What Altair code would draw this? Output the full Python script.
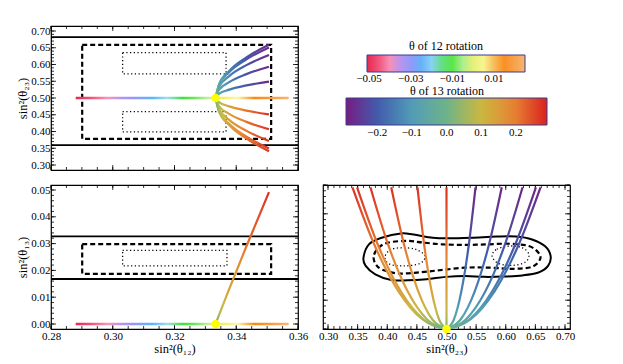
import altair as alt
import pandas as pd

FONT = "Liberation Serif"

# ---------------- data ----------------
theta13_pts = [0.0, 0.07, 0.14, 0.21, 0.275]
s13sq_pts = [0.0, 0.0033, 0.0130, 0.0290, 0.0492]        # sin^2(theta13)
s12sq_pts = [0.3333, 0.3344, 0.3377, 0.3433, 0.3506]     # sin^2(theta12)
s23_up = [
    [0.5, 0.5404, 0.5808, 0.6212, 0.6587],
    [0.5, 0.5384, 0.5769, 0.6153, 0.6509],
    [0.5, 0.5327, 0.5654, 0.5981, 0.6284],
    [0.5, 0.5238, 0.5475, 0.5713, 0.5933],
    [0.5, 0.5125, 0.5250, 0.5375, 0.5490],
]
s23_dn = [
    [0.5, 0.4596, 0.4192, 0.3788, 0.3413],
    [0.5, 0.4616, 0.4231, 0.3847, 0.3491],
    [0.5, 0.4673, 0.4346, 0.4019, 0.3716],
    [0.5, 0.4762, 0.4525, 0.4287, 0.4067],
    [0.5, 0.4875, 0.4750, 0.4625, 0.4510],
]
tbm_point = {"s12": 0.3333, "s13": 0.0, "s23": 0.5}

line12_x = [0.288, 0.357]

cb12_domain = [-0.051, 0.025]
cb12_ticks = [-0.05, -0.03, -0.01, 0.01]
cb12_offsets = [0.00, 0.07, 0.15, 0.22, 0.28, 0.36, 0.43, 0.50, 0.55, 0.62, 0.70, 0.76, 0.84, 1.00]
cb12_colors = ["#e52a50", "#f05078", "#f895bb", "#b094f4", "#909af8", "#58b8f8", "#a0dcf4",
               "#40e040", "#60e84c", "#c0f0a0", "#f8f060", "#f8f8b0", "#f88810", "#f8b474"]
cb13_domain = [-0.29, 0.29]
cb13_ticks = [-0.2, -0.1, 0.0, 0.1, 0.2]
cb13_colors = ["#781C81", "#3F60AE", "#539EB6", "#6DB388", "#CAB843", "#E78532", "#D92120"]

tl_solid_y = [0.3593, 0.6815]
tl_dash_rect = {"x": 0.2901, "x2": 0.3513, "y": 0.3778, "y2": 0.6583}
tl_dot_rects = {"x": [0.3032, 0.3032], "x2": [0.3367, 0.3367],
                "y": [0.5722, 0.3991], "y2": [0.6353, 0.4593]}
bl_solid_y = [0.0168, 0.0327]
bl_dash_rect = {"x": 0.2901, "x2": 0.3513, "y": 0.0187, "y2": 0.0298}
bl_dot_rect = {"x": 0.3032, "x2": 0.3370, "y": 0.0217, "y2": 0.0275}

br_solid_x = [0.3599, 0.3691, 0.3907, 0.4231, 0.4446, 0.4770, 0.5040, 0.5418, 0.5850, 0.6174,
              0.6444, 0.6660, 0.6757, 0.6714, 0.6552, 0.6282, 0.5958, 0.5635, 0.5311, 0.4988,
              0.4664, 0.4339, 0.4069, 0.3798, 0.3636]
br_solid_y = [0.0248, 0.0294, 0.0317, 0.0332, 0.0328, 0.0317, 0.0315, 0.0317, 0.0321, 0.0321,
              0.0311, 0.0288, 0.0254, 0.0219, 0.0196, 0.0186, 0.0182, 0.0181, 0.0184, 0.0181,
              0.0173, 0.0169, 0.0170, 0.0190, 0.0219]
br_dash_x = [0.3772, 0.3853, 0.4015, 0.4339, 0.4609, 0.4932, 0.5311, 0.5688, 0.6066, 0.6390,
             0.6552, 0.6579, 0.6444, 0.6120, 0.5742, 0.5311, 0.4883, 0.4501, 0.4177, 0.3907, 0.3798]
br_dash_y = [0.0254, 0.0282, 0.0300, 0.0306, 0.0300, 0.0294, 0.0292, 0.0294, 0.0296, 0.0288,
             0.0265, 0.0242, 0.0216, 0.0209, 0.0213, 0.0213, 0.0204, 0.0196, 0.0193, 0.0207, 0.0228]
br_dotL_x = [0.3961, 0.4042, 0.4231, 0.4474, 0.4636, 0.4555, 0.4285, 0.4042]
br_dotL_y = [0.0248, 0.0274, 0.0282, 0.0277, 0.0254, 0.0228, 0.0219, 0.0225]
br_dotR_x = [0.5769, 0.5850, 0.6066, 0.6282, 0.6390, 0.6336, 0.6120, 0.5877]
br_dotR_y = [0.0254, 0.0277, 0.0288, 0.0282, 0.0259, 0.0233, 0.0221, 0.0228]

x12_domain = [0.28, 0.36]
y23_domain = [0.30, 0.70]
y13_domain = [0.00, 0.05]
x23_domain = [0.30, 0.70]
x12_labels = [0.28, 0.30, 0.32, 0.34, 0.36]
y23_labels = [0.30, 0.35, 0.40, 0.45, 0.50, 0.55, 0.60, 0.65, 0.70]
y13_labels = [0.00, 0.01, 0.02, 0.03, 0.04, 0.05]
x23_labels = [0.30, 0.35, 0.40, 0.45, 0.50, 0.55, 0.60, 0.65, 0.70]

# ---------------- layout constants ----------------
W, H = 247, 144
LMAJ, LMIN = 5, 3


def steps(lo, hi, st):
    n = int(round((hi - lo) / st))
    return [round(lo + i * st, 5) for i in range(n + 1)]


def hex2rgb(h):
    return [int(h[i:i + 2], 16) for i in (1, 3, 5)]


def mix(c1, c2, r):
    a, b = hex2rgb(c1), hex2rgb(c2)
    return "#%02x%02x%02x" % tuple(round(a[k] + (b[k] - a[k]) * r) for k in range(3))


def cb13_knots():
    lo, hi = cb13_domain
    return [lo + i * (hi - lo) / (len(cb13_colors) - 1) for i in range(len(cb13_colors))]


def cmap13(t):
    lo, hi = cb13_domain
    f = (t - lo) / (hi - lo) * (len(cb13_colors) - 1)
    f = max(0.0, min(f, len(cb13_colors) - 1))
    i = min(int(f), len(cb13_colors) - 2)
    return mix(cb13_colors[i], cb13_colors[i + 1], f - i)


def grad(stops, x1=0, y1=0, x2=1, y2=0):
    return {"gradient": "linear", "x1": x1, "y1": y1, "x2": x2, "y2": y2,
            "stops": [{"offset": float(o), "color": c} for o, c in stops]}


def traj_stops(coord, sign):
    c0, c1 = coord[0], coord[-1]
    pos = [(v - c0) / (c1 - c0) for v in coord]
    th = theta13_pts
    stops = [(pos[0], cmap13(0.0))]
    for j in range(1, len(th)):
        for kt in cb13_knots():
            a = abs(kt)
            if th[j - 1] < a < th[j] and (kt * sign) > 0:
                r = (a - th[j - 1]) / (th[j] - th[j - 1])
                stops.append((pos[j - 1] + r * (pos[j] - pos[j - 1]), cmap13(sign * a)))
        stops.append((pos[j], cmap13(sign * th[j])))
    return stops


def mk_axis(values, title):
    return alt.Axis(values=values, format=".2f", title=title, ticks=False, domain=False, grid=False,
                    labelPadding=1, titlePadding=1, labelFlush=False, labelFont=FONT, titleFont=FONT,
                    labelFontSize=11, titleFontSize=12.5)


class Panel:
    def __init__(self, xdom, ydom, xaxis, yaxis):
        self.sx = alt.Scale(domain=xdom, nice=False, zero=False)
        self.sy = alt.Scale(domain=ydom, nice=False, zero=False)
        self.xa, self.ya = xaxis, yaxis
        self.layers = [alt.Chart(pd.DataFrame({"x": xdom, "y": ydom})).mark_point(opacity=0, size=1).encode(
            x=self.X("x"), y=self.Y("y"))]

    def X(self, f):
        return alt.X(f + ":Q", scale=self.sx, axis=self.xa)

    def Y(self, f):
        return alt.Y(f + ":Q", scale=self.sy, axis=self.ya)

    def ticks(self, xmaj, xmin, ymaj, ymin):
        for vals, L in ((xmin, LMIN), (xmaj, LMAJ)):
            base = alt.Chart(pd.DataFrame({"x": vals})).mark_rule(color="black", strokeWidth=0.8)
            self.layers.append(base.encode(x=self.X("x"), y=alt.value(H), y2=alt.value(H - L)))
            self.layers.append(base.encode(x=self.X("x"), y=alt.value(0), y2=alt.value(L)))
        for vals, L in ((ymin, LMIN), (ymaj, LMAJ)):
            base = alt.Chart(pd.DataFrame({"y": vals})).mark_rule(color="black", strokeWidth=0.8)
            self.layers.append(base.encode(y=self.Y("y"), x=alt.value(0), x2=alt.value(L)))
            self.layers.append(base.encode(y=self.Y("y"), x=alt.value(W), x2=alt.value(W - L)))

    def hrules(self, ys):
        self.layers.append(alt.Chart(pd.DataFrame({"y": ys})).mark_rule(
            color="black", strokeWidth=1.8).encode(y=self.Y("y")))

    def rects(self, d, width, dash):
        d = {k: (v if isinstance(v, list) else [v]) for k, v in d.items()}
        self.layers.append(alt.Chart(pd.DataFrame(d)).mark_rect(
            fillOpacity=0, stroke="black", strokeWidth=width, strokeDash=dash).encode(
            x=self.X("x"), x2="x2:Q", y=self.Y("y"), y2="y2:Q"))

    def curve(self, xs, ys, stroke):
        self.layers.append(alt.Chart(pd.DataFrame({"x": xs, "y": ys})).mark_line(
            stroke=stroke, strokeWidth=2.2, interpolate="monotone").encode(x=self.X("x"), y=self.Y("y")))

    def closed(self, xs, ys, width, dash=None):
        kw = dict(color="black", strokeWidth=width, interpolate="cardinal-closed")
        if dash:
            kw["strokeDash"] = dash
        self.layers.append(alt.Chart(pd.DataFrame({"x": xs, "y": ys, "i": list(range(len(xs)))}))
                           .mark_line(**kw).encode(x=self.X("x"), y=self.Y("y"), order="i:Q"))

    def hline12(self, yval):
        stops = list(zip(cb12_offsets, cb12_colors))
        self.layers.append(alt.Chart(pd.DataFrame({"x": [line12_x[0]], "x2": [line12_x[1]], "y": [yval]}))
                           .mark_bar(size=2.6, fill=grad(stops), strokeWidth=0)
                           .encode(x=self.X("x"), x2="x2:Q", y=self.Y("y")))

    def vbar(self, xval, y0, y1, fill):
        self.layers.append(alt.Chart(pd.DataFrame({"x": [xval], "y": [y0], "y2": [y1]}))
                           .mark_bar(size=2.2, fill=fill, strokeWidth=0)
                           .encode(x=self.X("x"), y=self.Y("y"), y2="y2:Q"))

    def dot(self, xv, yv):
        self.layers.append(alt.Chart(pd.DataFrame({"x": [xv], "y": [yv]})).mark_circle(
            size=70, color="#ffff00", opacity=1).encode(x=self.X("x"), y=self.Y("y")))

    def legend_layer(self, field, dom, stops_pos, colors, legend):
        self.layers.append(alt.Chart(pd.DataFrame({field: dom})).mark_point(opacity=0, size=1).encode(
            color=alt.Color(field + ":Q", scale=alt.Scale(domain=stops_pos, range=colors,
                                                          interpolate="rgb"), legend=legend)))

    def chart(self, independent_color=False):
        c = alt.layer(*self.layers).properties(
            width=W, height=H, view=alt.ViewBackground(stroke="black", strokeWidth=1.2))
        if independent_color:
            c = c.resolve_scale(color="independent")
        return c


def cb_legend(title, ticks, fmt, x, y, length, thick, tpad, loff):
    return alt.Legend(type="gradient", orient="none", legendX=x, legendY=y, direction="horizontal",
                      gradientLength=length, gradientThickness=thick, gradientStrokeColor="#3a3a8c",
                      gradientStrokeWidth=1, values=ticks, format=fmt, title=title,
                      titleAnchor="middle", titleFont=FONT, titleFontSize=12, titleFontWeight="normal",
                      titleColor="black", titlePadding=tpad, labelFont=FONT, labelFontSize=11,
                      labelColor="black", labelOverlap=False, labelAlign="center", labelOffset=loff,
                      padding=0)


# ---------------- top-left ----------------
p = Panel(x12_domain, y23_domain, None, mk_axis(y23_labels, "sin²(θ₂₃)"))
p.ticks(x12_labels, steps(0.28, 0.36, 0.005), y23_labels, steps(0.30, 0.70, 0.01))
p.hrules(tl_solid_y)
p.rects(tl_dash_rect, 2.2, [5, 3])
p.rects(tl_dot_rects, 1.3, [1.2, 2.5])
for k in range(len(s23_up)):
    p.curve(s12sq_pts, s23_dn[k], grad(traj_stops(s12sq_pts, 1)))
    p.curve(s12sq_pts, s23_up[k], grad(traj_stops(s12sq_pts, -1)))
p.hline12(0.5)
p.dot(tbm_point["s12"], tbm_point["s23"])
# colour bars as gradient legends placed to the right of the panel
p.legend_layer("t12", cb12_domain,
               [cb12_domain[0] + o * (cb12_domain[1] - cb12_domain[0]) for o in cb12_offsets],
               cb12_colors, cb_legend("θ of 12 rotation", cb12_ticks, ".2f", 316, 15, 158, 17, 2, 1))
p.legend_layer("t13", cb13_domain, cb13_knots(), cb13_colors,
               cb_legend("θ of 13 rotation", cb13_ticks, ".1f", 295, 60, 201, 27, 0, 2))
top_left = p.chart(independent_color=True)

# ---------------- bottom-left ----------------
p = Panel(x12_domain, y13_domain, mk_axis(x12_labels, "sin²(θ₁₂)"), mk_axis(y13_labels, "sin²(θ₁₃)"))
p.ticks(x12_labels, steps(0.28, 0.36, 0.005), y13_labels, steps(0.0, 0.05, 0.002))
p.hrules(bl_solid_y)
p.rects(bl_dash_rect, 2.2, [5, 3])
p.rects(bl_dot_rect, 1.3, [1.2, 2.5])
p.curve(s12sq_pts, s13sq_pts, grad(traj_stops(s13sq_pts, 1), 0, 1, 0, 0))
p.hline12(0.0)
p.dot(tbm_point["s12"], tbm_point["s13"])
bottom_left = p.chart()

# ---------------- bottom-right ----------------
p = Panel(x23_domain, y13_domain, mk_axis(x23_labels, "sin²(θ₂₃)"), None)
p.ticks(x23_labels, steps(0.30, 0.70, 0.01), y13_labels, steps(0.0, 0.05, 0.002))
p.closed(br_solid_x, br_solid_y, 2.0)
p.closed(br_dash_x, br_dash_y, 2.2, [5, 3])
p.closed(br_dotL_x, br_dotL_y, 1.3, [1.2, 2.5])
p.closed(br_dotR_x, br_dotR_y, 1.3, [1.2, 2.5])
for k in range(len(s23_up)):
    p.curve(s23_up[k], s13sq_pts, grad(traj_stops(s13sq_pts, -1), 0, 1, 0, 0))
    p.curve(s23_dn[k], s13sq_pts, grad(traj_stops(s13sq_pts, 1), 0, 1, 0, 0))
p.vbar(0.5, 0.0, s13sq_pts[-1], grad(traj_stops(s13sq_pts, 1), 0, 1, 0, 0))
p.dot(tbm_point["s23"], tbm_point["s13"])
bottom_right = p.chart()

spacer = alt.Chart(pd.DataFrame({"a": [0]})).mark_point(opacity=0, size=1).encode(
    x=alt.value(0), y=alt.value(0)).properties(width=1, height=1, view=alt.ViewBackground(strokeWidth=0))

chart = alt.concat(top_left, spacer, bottom_left, bottom_right, columns=2,
                   spacing={"row": 15, "column": 25}, bounds="flush").properties(
    padding={"left": 8, "top": 16, "right": 5, "bottom": 0}, background="white"
).configure_axis(
    labelFont=FONT, titleFont=FONT, labelColor="black", titleColor="black", titleFontWeight="normal"
).configure_legend(
    labelFont=FONT, titleFont=FONT
).configure_view(strokeWidth=0)

chart.save("out.html", embed_options={"renderer": "svg", "actions": False})
